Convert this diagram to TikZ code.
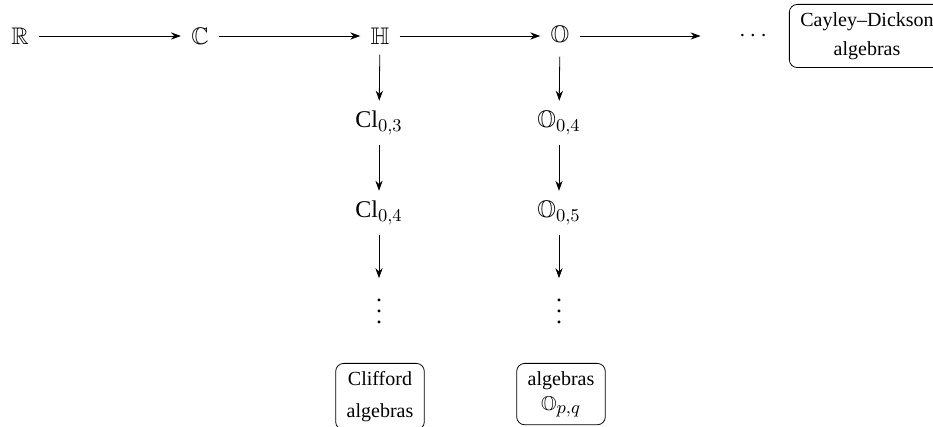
\documentclass[tikz,border=0pt]{standalone}
\usepackage{amsmath,amssymb}
\usepackage[no-math]{fontspec}
\setmainfont{Liberation Serif}
\DeclareMathSizes{10}{10}{9}{7}
\DeclareMathSizes{12}{12}{9}{7}
\usetikzlibrary{arrows.meta}
\newcommand\coldots{\vbox{\baselineskip5.5pt\lineskiplimit0pt\hbox{.}\hbox{.}\hbox{.}}}
\tikzset{
  alg/.style={inner sep=5pt,font=\large},
  down/.style={inner xsep=5pt,inner ysep=10pt,font=\large},
  fam/.style={draw,rounded corners=4pt,align=center,inner xsep=5.5pt,inner ysep=4pt},
  arr/.style={thin,-{Stealth[length=5pt,width=3.6pt]}}
}
\begin{document}
\begin{tikzpicture}
  \begin{scope}[x=0.5pt,y=-0.5pt]
  \useasboundingbox (0,0) rectangle (933,427);
  % top row
  \node[alg] (R) at (20,36) {$\mathbb{R}$};
  \node[alg] (C) at (200,36) {$\mathbb{C}$};
  \node[alg] (H) at (380,36) {$\mathbb{H}$};
  \node[alg] (O) at (560,36) {$\mathbb{O}$};
  \node[alg] (dots) at (755,36) {$\cdots$};
  \node[fam] (cd) at (867,36) {Cayley--Dickson\\[2.5pt]algebras};
  % columns
  \node[alg] (cl3) at (379,123) {$\text{Cl}_{0,3}$};
  \node[alg] (cl4) at (379,213) {$\text{Cl}_{0,4}$};
  \node[down] (clv) at (379,311) {\coldots};
  \node[fam,anchor=north] (cl) at (380,363) {Clifford\\[4pt]algebras};
  \node[alg] (o4) at (559,123) {$\mathbb{O}_{0,4}$};
  \node[alg] (o5) at (559,213) {$\mathbb{O}_{0,5}$};
  \node[down] (ov) at (559,311) {\coldots};
  \node[fam,anchor=north] (opq) at (561,363) {algebras\\[0.5pt]$\mathbb{O}_{p,q}$};
  \draw[arr] (R)--(C);
  \draw[arr] (C)--(H);
  \draw[arr] (H)--(O);
  \draw[arr,shorten >=14pt] (O)--(dots);
  \draw[arr] (H)--(cl3);
  \draw[arr] (cl3)--(cl4);
  \draw[arr] (cl4)--(clv);
  \draw[arr] (O)--(o4);
  \draw[arr] (o4)--(o5);
  \draw[arr] (o5)--(ov);
  \end{scope}
\end{tikzpicture}
\end{document}
